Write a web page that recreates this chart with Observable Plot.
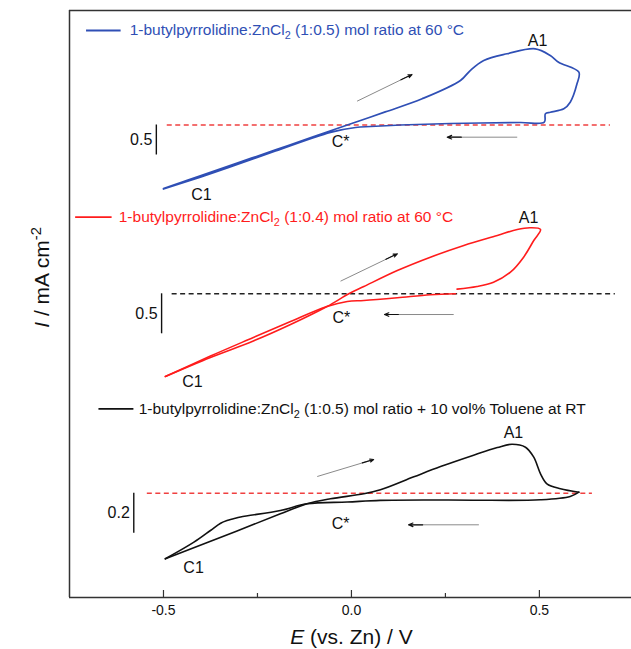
<!DOCTYPE html>
<html><head><meta charset="utf-8">
<script src="https://cdn.jsdelivr.net/npm/d3@7"></script>
<script src="https://cdn.jsdelivr.net/npm/@observablehq/plot@0.6"></script>
<style>html,body{margin:0;padding:0;background:#fff}svg{display:block}</style>
</head><body><div id="chart"></div>
<script>
// ---------- data (E in V vs Zn, I in mA cm^-2 relative to each curve's zero line) ----------
// Blue: 1-butylpyrrolidine:ZnCl2 (1:0.5) at 60 °C
const blueE = [-0.500,-0.452,-0.402,-0.302,-0.202,-0.102,-0.011,0.090,0.188,0.290,0.316,0.352,0.414,0.489,0.529,0.551,0.605,0.600,0.582,0.565,0.529,0.516,0.513,0.449,0.263,0.130,0.051,0.011,-0.056,-0.202,-0.302,-0.402,-0.500];
const blueI = [-1.058,-0.953,-0.845,-0.630,-0.415,-0.198,0.000,0.218,0.437,0.742,0.908,1.075,1.187,1.270,1.158,1.047,0.880,0.687,0.380,0.270,0.213,0.187,0.047,0.042,0.025,0.000,-0.025,-0.042,-0.122,-0.433,-0.655,-0.868,-1.067];
// Red: 1-butylpyrrolidine:ZnCl2 (1:0.4) at 60 °C (two recorded segments)
const redLoopE = [-0.495,-0.375,-0.261,-0.162,-0.065,-0.007,0.033,0.122,0.210,0.299,0.388,0.441,0.476,0.503,0.485,0.458,0.423,0.378,0.334,0.281];
const redLoopI = [-1.034,-0.796,-0.590,-0.384,-0.159,0.000,0.091,0.291,0.458,0.604,0.729,0.804,0.825,0.804,0.666,0.458,0.270,0.145,0.091,0.058];
const redRevE = [0.277,0.210,0.122,0.033,-0.011,-0.065,-0.162,-0.261,-0.375,-0.495];
const redRevI = [0.000,-0.0125,-0.050,-0.084,-0.096,-0.159,-0.346,-0.546,-0.778,-1.034];
// Black: (1:0.5) + 10 vol% toluene at RT
const blackFwdE = [-0.495,-0.306,-0.189,-0.118,-0.056,0.033,0.077,0.166,0.237,0.325,0.388,0.427,0.463,0.485,0.503,0.520,0.556,0.605];
const blackFwdI = [-0.328,-0.190,-0.103,-0.053,-0.028,-0.003,0.017,0.082,0.133,0.190,0.228,0.245,0.230,0.180,0.097,0.047,0.022,0.005];
const blackRevE = [0.605,0.582,0.503,0.324,0.210,0.077,-0.011,-0.118,-0.189,-0.295,-0.314,-0.331,-0.348,-0.375,-0.419,-0.495];
const blackRevI = [0.005,-0.0165,-0.033,-0.035,-0.034,-0.036,-0.044,-0.053,-0.0865,-0.119,-0.128,-0.1365,-0.150,-0.1865,-0.245,-0.328];

const legendNames = [
  "1-butylpyrrolidine:ZnCl₂ (1:0.5) mol ratio at 60 °C",
  "1-butylpyrrolidine:ZnCl₂ (1:0.4) mol ratio at 60 °C",
  "1-butylpyrrolidine:ZnCl₂ (1:0.5) mol ratio + 10 vol% Toluene at RT"
];
const scaleBarValues = [0.5, 0.5, 0.2];
const scaleBarLabels = ["0.5", "0.5", "0.2"];
const peakLabels = ["A1", "C*", "C1"];
const majorTicks = [-0.5, 0.0, 0.5];
const minorTicks = [-0.25, 0.25];
const xLabel = "E (vs. Zn) / V";
const yLabel = "I / mA cm⁻²";

// ---------- layout (offset / gain of each stacked curve, label anchors) ----------
const xDomain = [-0.75, 0.745];
const yDomain = [0, 587];
const curves = [
  {key:"blue", color:"#2f4fb5", base:472.5, gain:60, dash:"#f04040", dashE:[-0.490,0.689], barE:-0.519,
   legend:{E1:-0.706,E2:-0.614,y:567,textE:-0.590},
   labels:[[0.495,1.408],[-0.029,-0.275],[-0.399,-1.158]],
   arrows:[[0.015,0.397,0.161,0.842],[0.441,-0.203,0.255,-0.203]]},
  {key:"red", color:"#ff1c1c", base:303.7, gain:80, dash:"#222", dashE:[-0.477,0.702], barE:-0.505,
   legend:{E1:-0.735,E2:-0.638,y:380.3,textE:-0.619},
   labels:[[0.471,0.954],[-0.027,-0.296],[-0.423,-1.096]],
   arrows:[[-0.029,0.158,0.122,0.500],[0.272,-0.259,0.088,-0.259]]},
  {key:"black", color:"#111", base:104.3, gain:200, dash:"#f04040", dashE:[-0.543,0.641], barE:-0.579,
   legend:{E1:-0.673,E2:-0.580,y:188.7,textE:-0.566},
   labels:[[0.431,0.3035],[-0.029,-0.1515],[-0.420,-0.3715]],
   arrows:[[-0.091,0.0835,0.059,0.1685],[0.339,-0.158,0.152,-0.158]]}
];

const seriesData = {
  blue: [[blueE, blueI]],
  red: [[redLoopE, redLoopI], [redRevE, redRevI]],
  black: [[blackFwdE, blackFwdI], [blackRevE, blackRevI]]
};

const rows = [];
curves.forEach(c => {
  seriesData[c.key].forEach(([E, I], s) => {
    E.forEach((e, i) => rows.push({curve: c.key, seg: c.key + s, E: e, y: c.base + I[i] * c.gain}));
  });
});

const dashRows = curves.map(c => ({y: c.base, x1: c.dashE[0], x2: c.dashE[1], stroke: c.dash}));
const barRows = curves.map((c, i) => ({x: c.barE, y1: c.base, y2: c.base - scaleBarValues[i] * c.gain, label: scaleBarLabels[i], ym: c.base - scaleBarValues[i] * c.gain / 2}));
const labelRows = curves.flatMap(c => c.labels.map(([e, I], j) => ({E: e, y: c.base + I * c.gain, text: peakLabels[j]})));
const arrowRows = curves.flatMap(c => c.arrows.map(([e1, i1, e2, i2]) => ({x1: e1, y1: c.base + i1 * c.gain, x2: e2, y2: c.base + i2 * c.gain})));
const arrowHeadRows = arrowRows.map(a => ({x1: a.x1 + (a.x2 - a.x1) * 0.8, y1: a.y1 + (a.y2 - a.y1) * 0.8, x2: a.x2, y2: a.y2}));
const legendRows = curves.map((c, i) => ({...c.legend, color: c.color, text: legendNames[i]}));

const font = "'Liberation Sans', Arial, Helvetica, sans-serif";
const axisColor = "#333";

const chart = Plot.plot({
  width: 631, height: 649,
  marginLeft: 69, marginRight: 0, marginTop: 10, marginBottom: 52,
  style: {fontFamily: font, background: "white", color: "#111"},
  x: {domain: xDomain},
  y: {domain: yDomain, axis: null},
  marks: [
    Plot.ruleX([xDomain[0]], {stroke: axisColor, strokeWidth: 1.5}),
    Plot.ruleY([yDomain[0], yDomain[1]], {stroke: axisColor, strokeWidth: 1.5}),
    Plot.ruleX(majorTicks, {y1: yDomain[0], y2: yDomain[0] + 7, stroke: axisColor, strokeWidth: 1.2}),
    Plot.ruleX(minorTicks, {y1: yDomain[0], y2: yDomain[0] + 4, stroke: axisColor, strokeWidth: 1.2}),
    Plot.axisX({ticks: majorTicks, tickSize: 0, tickPadding: 8, fontSize: 14, label: null, tickFormat: d => d.toFixed(1)}),
    Plot.ruleY(dashRows, {y: "y", x1: "x1", x2: "x2", stroke: "stroke", strokeWidth: 1.4, strokeDasharray: "5,3.5"}),
    Plot.ruleX(barRows, {x: "x", y1: "y1", y2: "y2", stroke: "#111", strokeWidth: 1.4}),
    Plot.text(barRows, {x: "x", y: "ym", text: "label", textAnchor: "end", dx: -4, fontSize: 16, fill: "#111"}),
    Plot.line(rows.filter(r => r.curve === "blue"), {x: "E", y: "y", z: "seg", stroke: curves[0].color, strokeWidth: 1.7, curve: "catmull-rom"}),
    Plot.line(rows.filter(r => r.curve === "red"), {x: "E", y: "y", z: "seg", stroke: curves[1].color, strokeWidth: 1.6, curve: "catmull-rom"}),
    Plot.line(rows.filter(r => r.curve === "black"), {x: "E", y: "y", z: "seg", stroke: curves[2].color, strokeWidth: 1.6, curve: "catmull-rom"}),
    Plot.link(arrowRows, {x1: "x1", y1: "y1", x2: "x2", y2: "y2", stroke: "#8a8a8a", strokeWidth: 1}),
    Plot.arrow(arrowHeadRows, {x1: "x1", y1: "y1", x2: "x2", y2: "y2", stroke: "#111", strokeWidth: 1.2, headLength: 7, headAngle: 45}),
    Plot.text(labelRows, {x: "E", y: "y", text: "text", fontSize: 16, fill: "#111"}),
    Plot.link(legendRows, {x1: "E1", x2: "E2", y1: "y", y2: "y", stroke: "color", strokeWidth: 1.8}),
    Plot.text(legendRows, {x: "textE", y: "y", text: "text", fill: "color", textAnchor: "start", fontSize: 15.5}),
    Plot.text([xLabel], {text: d => d, x: 0, frameAnchor: "bottom", lineAnchor: "middle", dy: 40, fontSize: 21, fill: "#111"}),
    Plot.text([yLabel], {text: d => d, frameAnchor: "left", textAnchor: "middle", lineAnchor: "middle", y: 320, dx: -27, rotate: -90, fontSize: 21, fill: "#111"})
  ]
});

// rich text: italics, sub- and superscripts
const NS = "http://www.w3.org/2000/svg";
function rebuild(el, parts) {
  while (el.firstChild) el.removeChild(el.firstChild);
  let shift = 0;
  for (const p of parts) {
    const ts = document.createElementNS(NS, "tspan");
    ts.textContent = p.t;
    const target = p.shift || 0;
    if (target !== shift) { ts.setAttribute("dy", target - shift); shift = target; }
    if (p.small) ts.setAttribute("font-size", "70%");
    if (p.italic) ts.setAttribute("font-style", "italic");
    el.appendChild(ts);
  }
}
chart.querySelectorAll("text").forEach(t => {
  const s = t.textContent;
  if (s.includes("₂")) {
    const [a, b] = s.split("₂");
    rebuild(t, [{t: a}, {t: "2", small: true, shift: 4}, {t: b, shift: 0}]);
  } else if (s === yLabel) {
    rebuild(t, [{t: "I", italic: true}, {t: " / mA cm"}, {t: "-2", small: true, shift: -8}]);
  } else if (s === xLabel) {
    rebuild(t, [{t: "E", italic: true}, {t: " (vs. Zn) / V"}]);
  }
});
document.getElementById("chart").appendChild(chart);
</script>
</body></html>
